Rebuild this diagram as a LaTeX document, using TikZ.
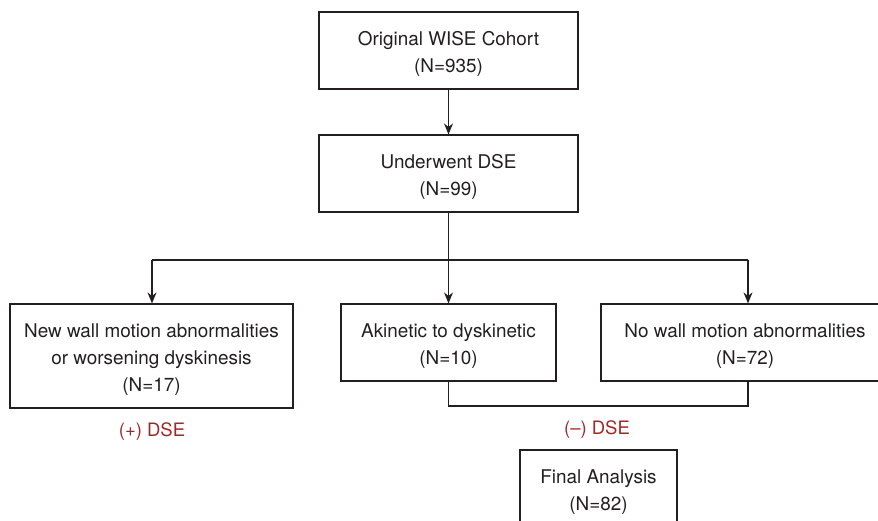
\documentclass[tikz,border=0pt]{standalone}
\usepackage{fontspec}
\setmainfont{TeX Gyre Heros}
\usetikzlibrary{arrows.meta}
\definecolor{ink}{HTML}{231F20}
\definecolor{dsered}{HTML}{A3262A}
\newcommand{\boxtext}[1]{\raisebox{-3.5pt}[\height][\depth]{\begin{tabular}{@{}c@{}}#1\end{tabular}}}
\begin{document}
\begin{tikzpicture}[x=1pt,y=-1pt,
  box/.style={draw=ink, line width=1.2pt, rectangle, text=ink,
    font=\fontsize{18.9}{27}\selectfont, inner sep=0pt},
  conn/.style={draw=ink, line width=1.2pt},
  arr/.style={conn, -{Stealth[length=11pt,width=9pt]}},
  lbl/.style={text=dsered, font=\fontsize{18.5}{22}\selectfont, inner sep=0pt}]
\clip (0,0) rectangle (878,521);
\useasboundingbox (0,0) rectangle (878,521);
\renewcommand{\arraystretch}{1}
\setlength{\tabcolsep}{0pt}
\node[box, minimum width=259pt, minimum height=77pt] (orig) at (448.5,50.5) {\boxtext{Original WISE Cohort\\(N=935)}};
\node[box, minimum width=259pt, minimum height=77pt] (dse) at (448.5,173.5) {\boxtext{Underwent DSE\\(N=99)}};
\node[box, minimum width=283pt, minimum height=104pt] (pos) at (151.5,356) {\boxtext{New wall motion abnormalities\\or worsening dyskinesis\\(N=17)}};
\node[box, minimum width=215pt, minimum height=77pt] (ak) at (448.5,342.5) {\boxtext{Akinetic to dyskinetic\\(N=10)}};
\node[box, minimum width=288pt, minimum height=77pt] (nw) at (745,342.5) {\boxtext{No wall motion abnormalities\\(N=72)}};
\node[box, minimum width=157pt, minimum height=77pt] (fin) at (598.5,488.5) {\boxtext{Final Analysis\\(N=82)}};
\node[lbl] (plbl) at (152,432) {(+) DSE};
\node[lbl] (mlbl) at (597,430) {(–) DSE};
\coordinate (jL) at (152,260);
\coordinate (jR) at (748,260);
\coordinate (jM) at (448.5,260);
\coordinate (bL) at (448.5,406);
\coordinate (bR) at (748,406);
\draw[arr] (orig) -- (dse);
\draw[conn] (dse.south) -- (jM);
\draw[conn] (jL) -- (jR);
\draw[arr] (jL) -- (jL |- pos.north);
\draw[arr] (jM) -- (ak.north);
\draw[arr] (jR) -- (jR |- nw.north);
\draw[conn] (ak.south) -- (bL) -- (bR) -- (bR |- nw.south);
\end{tikzpicture}
\end{document}
